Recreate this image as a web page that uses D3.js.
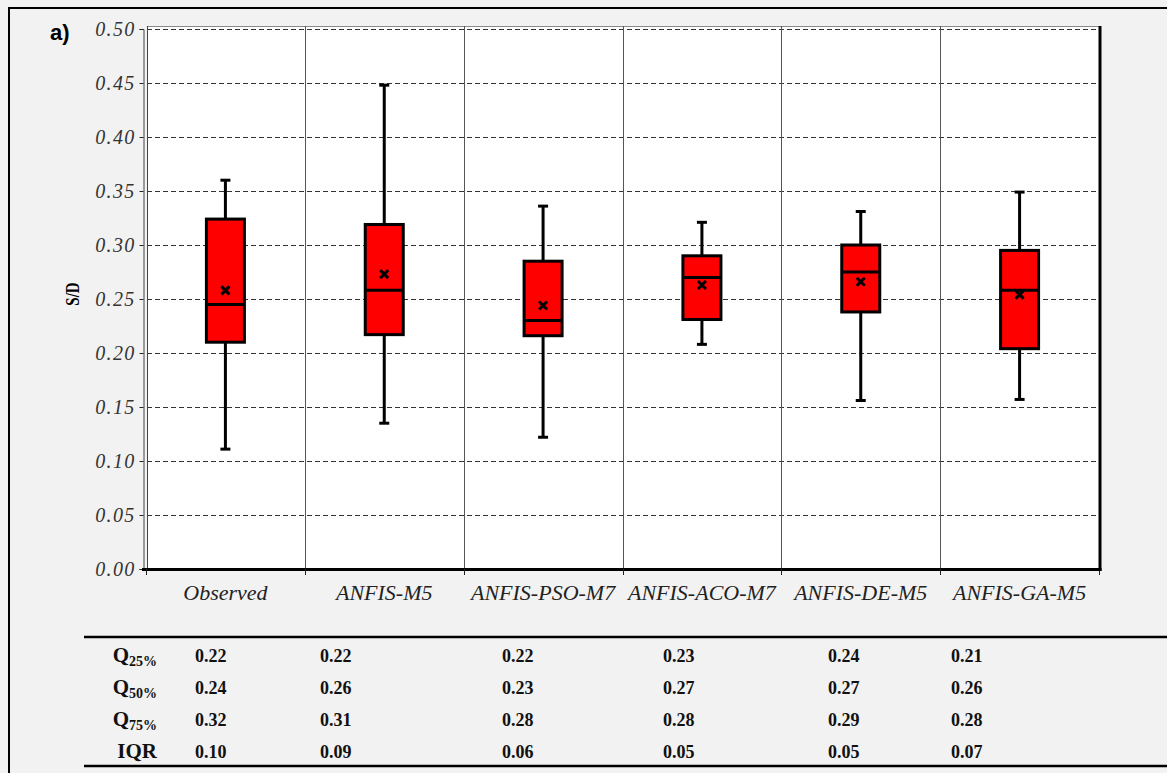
<!DOCTYPE html>
<html>
<head>
<meta charset="utf-8">
<script src="https://cdn.jsdelivr.net/npm/d3@7"></script>
<style>
  html, body { margin: 0; padding: 0; background: #f2f2f2; }
  svg { display: block; }
</style>
</head>
<body>
<svg id="chart" width="1167" height="773"></svg>
<script>
// ---- data ----
const categories = ["Observed", "ANFIS-M5", "ANFIS-PSO-M7", "ANFIS-ACO-M7", "ANFIS-DE-M5", "ANFIS-GA-M5"];
const whiskerLow  = [0.111, 0.135, 0.122, 0.208, 0.156, 0.157];
const q1          = [0.210, 0.217, 0.216, 0.231, 0.238, 0.204];
const median      = [0.245, 0.258, 0.230, 0.270, 0.275, 0.258];
const q3          = [0.324, 0.319, 0.285, 0.290, 0.300, 0.295];
const whiskerHigh = [0.360, 0.448, 0.336, 0.321, 0.331, 0.349];
const mean        = [0.258, 0.273, 0.244, 0.263, 0.266, 0.254];
const yTicks = [0, 0.05, 0.10, 0.15, 0.20, 0.25, 0.30, 0.35, 0.40, 0.45, 0.50];

// summary table beneath the chart
const tableRowMain = ["Q", "Q", "Q", "IQR"];
const tableRowSub  = ["25%", "50%", "75%", ""];
const tableQ25 = ["0.22", "0.22", "0.22", "0.23", "0.24", "0.21"];
const tableQ50 = ["0.24", "0.26", "0.23", "0.27", "0.27", "0.26"];
const tableQ75 = ["0.32", "0.31", "0.28", "0.28", "0.29", "0.28"];
const tableIQR = ["0.10", "0.09", "0.06", "0.05", "0.05", "0.07"];

// ---- layout ----
const plot = { left: 147, right: 1100, top: 26, bottom: 569 };
const tableColX = [195, 320, 502, 663, 828, 951];
const tableRowY = [662, 694, 726, 758];
const serif = "Liberation Serif";

const svg = d3.select("#chart");

// outer frame
svg.append("rect").attr("width", 1167).attr("height", 773).attr("fill", "#f2f2f2");
svg.append("path").attr("d", "M9,773 V8 H1167")
  .attr("fill", "none").attr("stroke", "#000").attr("stroke-width", 2);

// panel tag
svg.append("text").attr("x", 50).attr("y", 40)
  .attr("font-family", "Liberation Sans")
  .attr("font-weight", "bold").attr("font-size", 22).text("a)");

const x = d3.scaleBand().domain(categories).range([146, 1099]).padding(0);
const y = d3.scaleLinear().domain([0, 0.5]).range([569, 29]);

// plot background
svg.append("rect")
  .attr("x", plot.left).attr("y", plot.top)
  .attr("width", plot.right - plot.left).attr("height", plot.bottom - plot.top)
  .attr("fill", "#fff");
svg.append("line").attr("x1", plot.left).attr("x2", plot.right)
  .attr("y1", plot.top + 0.5).attr("y2", plot.top + 0.5)
  .attr("stroke", "#888").attr("stroke-width", 1);

// horizontal dashed grid
svg.append("g").selectAll("line")
  .data(yTicks.filter(t => t > 0))
  .join("line")
  .attr("x1", plot.left).attr("x2", plot.right)
  .attr("y1", d => Math.round(y(d)) + 0.5).attr("y2", d => Math.round(y(d)) + 0.5)
  .attr("stroke", "#333").attr("stroke-width", 1).attr("stroke-dasharray", "5,3");

// vertical category dividers
svg.append("g").selectAll("line")
  .data(categories.slice(1))
  .join("line")
  .attr("x1", d => Math.round(x(d)) + 0.5).attr("x2", d => Math.round(x(d)) + 0.5)
  .attr("y1", plot.top).attr("y2", plot.bottom)
  .attr("stroke", "#555").attr("stroke-width", 1);

// left axis: double rule, ticks, labels
const yAxis = d3.axisLeft(y).tickValues(yTicks).tickFormat(d3.format(".2f")).tickSize(4).tickPadding(4);
const gy = svg.append("g").attr("transform", "translate(143.5,0)").call(yAxis);
gy.attr("font-family", serif);
gy.select(".domain").attr("stroke", "#444");
gy.selectAll(".tick line").attr("stroke", "#222");
gy.selectAll(".tick text")
  .attr("font-family", serif).attr("font-style", "italic").attr("font-size", 20)
  .attr("fill", "#333").attr("letter-spacing", "1.3px")
  .attr("dy", "0.34em");
svg.append("line").attr("x1", 147.5).attr("x2", 147.5).attr("y1", plot.top).attr("y2", plot.bottom + 1)
  .attr("stroke", "#444").attr("stroke-width", 1);

// bottom axis
const xAxis = d3.axisBottom(x).tickSize(0).tickPadding(15);
const gx = svg.append("g").attr("transform", `translate(0,${plot.bottom})`).call(xAxis);
gx.attr("font-family", serif);
gx.select(".domain").remove();
gx.selectAll(".tick text")
  .attr("font-family", serif).attr("font-style", "italic").attr("font-size", 22)
  .attr("fill", "#222");
svg.append("line").attr("x1", 142).attr("x2", plot.right + 1.5)
  .attr("y1", plot.bottom + 0.5).attr("y2", plot.bottom + 0.5)
  .attr("stroke", "#000").attr("stroke-width", 3);
svg.append("g").selectAll("line")
  .data(categories.map(c => x(c)).concat([x.range()[1]]))
  .join("line")
  .attr("x1", d => Math.round(d) + 0.5).attr("x2", d => Math.round(d) + 0.5)
  .attr("y1", plot.bottom).attr("y2", plot.bottom + 6)
  .attr("stroke", "#222").attr("stroke-width", 1);

// right border
svg.append("line").attr("x1", plot.right).attr("x2", plot.right)
  .attr("y1", plot.top).attr("y2", plot.bottom + 2)
  .attr("stroke", "#000").attr("stroke-width", 3);

// y-axis title
svg.append("text")
  .attr("transform", "translate(79,294) scale(1.3,1) rotate(-90)")
  .attr("text-anchor", "middle")
  .attr("font-family", serif).attr("font-weight", "bold").attr("font-size", 15)
  .text("S/D");

// ---- box plots ----
const boxW = 38, capW = 10;
const boxes = categories.map((c, i) => ({
  cx: x(c) + x.bandwidth() / 2,
  lo: whiskerLow[i], q1: q1[i], med: median[i], q3: q3[i], hi: whiskerHigh[i], mean: mean[i]
}));
const gb = svg.append("g").selectAll("g").data(boxes).join("g");

gb.append("line") // whisker stem
  .attr("x1", d => d.cx).attr("x2", d => d.cx)
  .attr("y1", d => y(d.lo)).attr("y2", d => y(d.hi))
  .attr("stroke", "#000").attr("stroke-width", 3);
gb.append("line") // upper cap
  .attr("x1", d => d.cx - capW / 2).attr("x2", d => d.cx + capW / 2)
  .attr("y1", d => y(d.hi)).attr("y2", d => y(d.hi))
  .attr("stroke", "#000").attr("stroke-width", 3);
gb.append("line") // lower cap
  .attr("x1", d => d.cx - capW / 2).attr("x2", d => d.cx + capW / 2)
  .attr("y1", d => y(d.lo)).attr("y2", d => y(d.lo))
  .attr("stroke", "#000").attr("stroke-width", 3);
gb.append("rect")
  .attr("x", d => d.cx - boxW / 2).attr("width", boxW)
  .attr("y", d => y(d.q3)).attr("height", d => y(d.q1) - y(d.q3))
  .attr("fill", "#ff0000").attr("stroke", "#000").attr("stroke-width", 3);
gb.append("line") // median
  .attr("x1", d => d.cx - boxW / 2).attr("x2", d => d.cx + boxW / 2)
  .attr("y1", d => y(d.med)).attr("y2", d => y(d.med))
  .attr("stroke", "#000").attr("stroke-width", 3);
gb.append("path") // mean marker
  .attr("d", d => {
    const my = y(d.mean), s = 4;
    return `M${d.cx - s},${my - s}L${d.cx + s},${my + s}M${d.cx - s},${my + s}L${d.cx + s},${my - s}`;
  })
  .attr("stroke", "#000").attr("stroke-width", 3).attr("fill", "none");

// ---- summary table ----
svg.append("line").attr("x1", 84).attr("x2", 1167).attr("y1", 637).attr("y2", 637)
  .attr("stroke", "#000").attr("stroke-width", 2.5);
svg.append("line").attr("x1", 84).attr("x2", 1167).attr("y1", 766).attr("y2", 766)
  .attr("stroke", "#000").attr("stroke-width", 2.5);

const rowLabels = svg.append("g").selectAll("text")
  .data(tableRowMain.map((m, i) => ({ m, s: tableRowSub[i], y: tableRowY[i] })))
  .join("text")
  .attr("x", 157).attr("y", d => d.y)
  .attr("text-anchor", "end")
  .attr("font-family", serif).attr("font-weight", "bold").attr("font-size", 21)
  .attr("fill", "#111");
rowLabels.append("tspan").text(d => d.m);
rowLabels.filter(d => d.s).append("tspan")
  .attr("font-size", 14).attr("dy", 4).text(d => d.s);

const tableRows = [tableQ25, tableQ50, tableQ75, tableIQR];
tableRows.forEach((row, r) => {
  svg.append("g").selectAll("text")
    .data(row)
    .join("text")
    .attr("x", (d, i) => tableColX[i]).attr("y", tableRowY[r])
    .attr("font-family", serif).attr("font-weight", "bold").attr("font-size", 18)
    .attr("fill", "#111")
    .text(d => d);
});
</script>
</body>
</html>
